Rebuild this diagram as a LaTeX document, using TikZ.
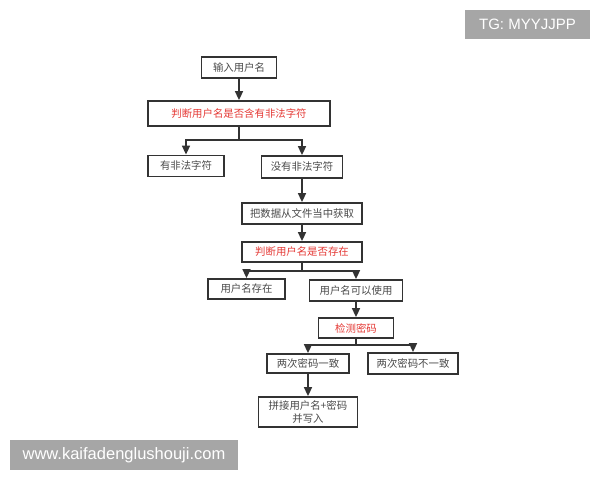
\documentclass[tikz,border=0pt]{standalone}
\usepackage{fontspec}
\setmainfont{Liberation Sans}
\newfontfamily\cjk{Noto Sans CJK SC}
\usetikzlibrary{arrows.meta}
\definecolor{boxline}{HTML}{333333}
\definecolor{txt}{HTML}{4A4A4A}
\definecolor{redtxt}{HTML}{E53935}
\definecolor{wm}{HTML}{A6A6A6}
\begin{document}
\begin{tikzpicture}[x=1pt,y=-1pt,
  box/.style={draw=boxline, line width=1.8pt, fill=white, inner sep=0pt,
    font=\cjk\fontsize{10.4}{13}\selectfont, text=txt, align=center},
  hot/.style={box, text=redtxt},
  conn/.style={draw=boxline, line width=1.6pt},
  arr/.style={conn, -{Triangle[width=8pt,length=9pt]}},
  tag/.style={fill=wm, text=white, inner sep=0pt}]
\useasboundingbox[fill=white] (0,0) rectangle (600,480);

% watermarks
\node[tag, minimum width=125pt, minimum height=29pt] (tg) at (527.5,24.5)
  {\fontsize{15}{18}\selectfont TG: MYYJJPP};
\node[tag, minimum width=228pt, minimum height=30pt] (site) at (124,455)
  {\fontsize{16.5}{18}\selectfont www.kaifadenglushouji.com};

% boxes
\node[box, minimum width=75pt, minimum height=21pt] (n1) at (239,67.5) {输入用户名};
\node[hot, minimum width=182pt, minimum height=25pt] (n2) at (239,113.5) {判断用户名是否含有非法字符};
\node[box, minimum width=76pt, minimum height=21pt] (n3) at (186,166) {有非法字符};
\node[box, minimum width=81pt, minimum height=22pt] (n4) at (302,167) {没有非法字符};
\node[box, minimum width=120pt, minimum height=21pt] (n5) at (302,213.5) {把数据从文件当中获取};
\node[hot, minimum width=120pt, minimum height=20pt] (n6) at (302,252) {判断用户名是否存在};
\node[box, minimum width=77pt, minimum height=20pt] (n7) at (246.5,289) {用户名存在};
\node[box, minimum width=93pt, minimum height=21pt] (n8) at (356,290.5) {用户名可以使用};
\node[hot, minimum width=75pt, minimum height=20pt] (n9) at (356,328) {检测密码};
\node[box, minimum width=82pt, minimum height=19pt] (n10) at (308,363.5) {两次密码一致};
\node[box, minimum width=90pt, minimum height=21pt] (n11) at (413,363.5) {两次密码不一致};
\node[box, minimum width=99pt, minimum height=30pt] (n12) at (308,412) {拼接用户名+密码\\并写入};

% branch points
\coordinate (b1) at (239,140);
\coordinate (b2) at (302,271);
\coordinate (b3) at (356,345);

% connectors
\draw[arr] (n1) -- (n2);
\draw[conn] (n2.south) -- (b1);
\draw[arr] (b1) -| (n3.north);
\draw[arr] (b1) -| (n4.north);
\draw[arr] (n4) -- (n5);
\draw[arr] (n5) -- (n6);
\draw[conn] (n6.south) -- (b2);
\draw[arr] (b2) -| (n7.north);
\draw[arr] (b2) -| (n8.north);
\draw[arr] (n8) -- (n9);
\draw[conn] (n9.south) -- (b3);
\draw[arr] (b3) -| (n10.north);
\draw[arr] (b3) -| (n11.north);
\draw[arr] (n10) -- (n12);
\end{tikzpicture}
\end{document}
